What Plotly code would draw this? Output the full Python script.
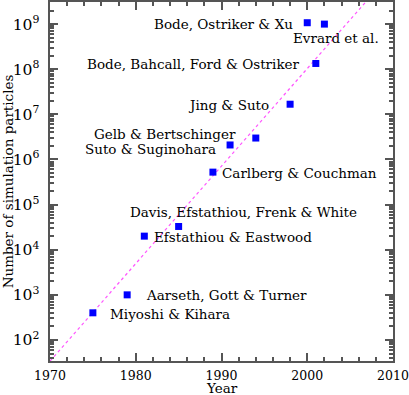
import plotly.graph_objects as go
import numpy as np

# simulation sizes by year of publication
years = [1975, 1979, 1981, 1985, 1989, 1991, 1994, 1998, 2001, 2000, 2002]
particles = [400, 1000, 20000, 32768, 524288, 2097152, 2985984,
             16777216, 134217728, 1073741824, 1000000000]
labels = ["Miyoshi & Kihara", "Aarseth, Gott & Turner", "Efstathiou & Eastwood",
          "Davis, Efstathiou, Frenk & White", "Carlberg & Couchman",
          "Suto & Suginohara", "Gelb & Bertschinger", "Jing & Suto",
          "Bode, Bahcall, Ford & Ostriker", "Bode, Ostriker & Xu", "Evrard et al."]

# label offsets from each point, in pixels
label_dx = [77, 99, 89, 65, 87, -80, -91, -62, -122, -84, 12]
label_dy = [-1, 0, -1, 14, -1, -4, 4, -1, -1, -1, -14]

# dotted trend line endpoints
trend_years = [1970, 2010]
trend_particles = [34, 1.5e10]

FONT = "DejaVu Serif"
axcol = "#555555"

fig = go.Figure()
fig.add_trace(go.Scatter(x=trend_years, y=trend_particles, mode="lines",
                         line=dict(color="#ff55ff", width=1.2, dash="dot"),
                         hoverinfo="skip"))
fig.add_trace(go.Scatter(x=years, y=particles, mode="markers",
                         marker=dict(symbol="square", size=7, color="#0000ff")))

for yr, n, lab, dx, dy in zip(years, particles, labels, label_dx, label_dy):
    fig.add_annotation(x=yr, y=np.log10(n), text=lab, showarrow=False,
                       xanchor="center", yanchor="middle", xshift=dx, yshift=dy,
                       font=dict(family=FONT, size=13.5, color="black"))

# x title as annotation: the margin is too tight for plotly's own title placement
fig.add_annotation(x=0.5, y=0, xref="paper", yref="paper", text="Year",
                   showarrow=False, xanchor="center", yanchor="top", yshift=-17,
                   font=dict(family=FONT, size=13.5, color="black"))

axis_common = dict(showline=True, linecolor=axcol, linewidth=2, mirror="allticks",
                   ticks="inside", tickcolor=axcol, tickwidth=1.5, ticklen=8,
                   showgrid=False, zeroline=False, automargin=False,
                   tickfont=dict(family=FONT, size=12.5, color="black"))

fig.update_xaxes(range=[1970, 2010], dtick=10, tick0=1970,
                 minor=dict(ticks="inside", ticklen=4, dtick=2, tickcolor=axcol),
                 ticklabelstandoff=2,
                 **axis_common)
fig.update_yaxes(type="log", range=[1.534, 9.49], dtick=1, exponentformat="power",
                 minor=dict(ticks="inside", ticklen=4, dtick="D1", tickcolor=axcol),
                 ticklabelstandoff=6,
                 title=dict(text="Number of simulation particles",
                            font=dict(family=FONT, size=13.5, color="black"), standoff=2),
                 **axis_common)

fig.update_layout(width=409, height=395, margin=dict(l=50, r=16, t=2, b=34),
                  plot_bgcolor="white", paper_bgcolor="white", showlegend=False)

fig.write_html("out.html", config={"displayModeBar": False},
               post_script="document.body.style.margin='0';")
